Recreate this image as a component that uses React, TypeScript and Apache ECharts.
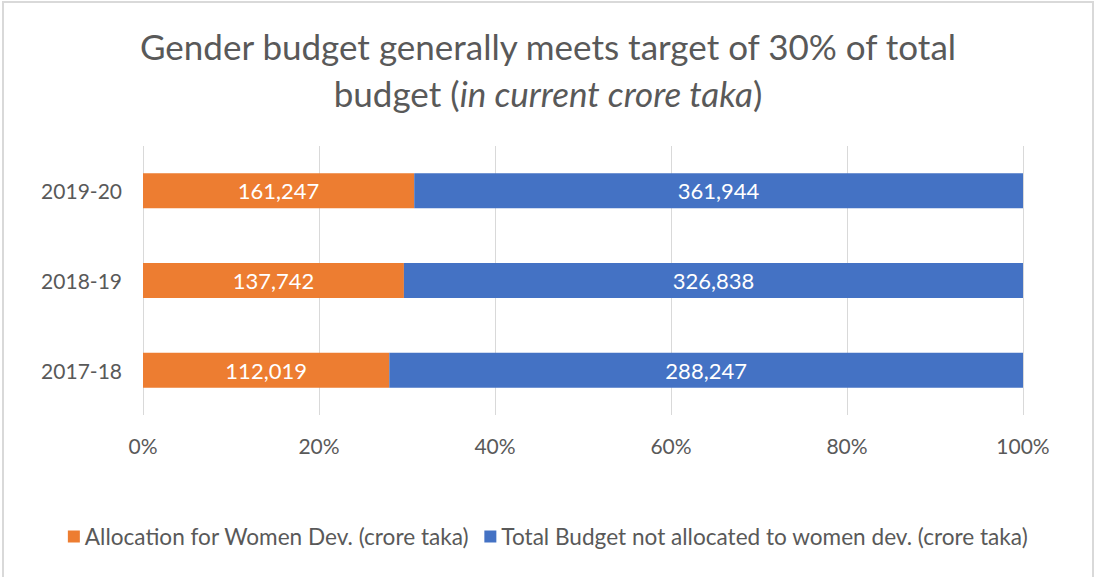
import React, { useEffect, useRef } from "react";
import * as echarts from "echarts";

const years = ["2017-18", "2018-19", "2019-20"];
const womenAlloc = [112019, 137742, 161247];
const notAlloc = [288247, 326838, 361944];
const seriesNames = [
  "Allocation for Women Dev. (crore taka)",
  "Total Budget not allocated to women dev. (crore taka)",
];
const xTicks = [0, 20, 40, 60, 80, 100];

const FONT = "Lato, 'Open Sans', sans-serif";
const GRAY = "#595959";

export default function App() {
  const ref = useRef<HTMLDivElement>(null);
  useEffect(() => {
    document.body.style.margin = "0";
    const chart = echarts.init(ref.current!, null, { renderer: "svg" });
    const totals = years.map((_, i) => womenAlloc[i] + notAlloc[i]);
    const fmt = (v: number) => v.toLocaleString("en-US");
    const mk = (name: string, raw: number[], color: string) => ({
      name,
      type: "bar",
      stack: "total",
      barWidth: 35,
      itemStyle: { color },
      label: {
        show: true,
        position: "inside",
        color: "#ffffff",
        fontSize: 22,
        fontFamily: FONT,
        formatter: (p: any) => fmt(raw[p.dataIndex]),
      },
      data: raw.map((v, i) => (v / totals[i]) * 100),
    });
    chart.setOption({
      animation: false,
      textStyle: { fontFamily: FONT },
      title: {
        text: "Gender budget generally meets target of 30% of total\nbudget ({i|in current crore taka})",
        left: "center",
        top: 17,
        textStyle: {
          fontFamily: FONT,
          fontSize: 35,
          fontWeight: "normal",
          color: GRAY,
          lineHeight: 47,
          rich: {
            i: {
              fontFamily: FONT,
              fontSize: 35,
              fontStyle: "italic",
              color: GRAY,
              lineHeight: 47,
            },
          },
        },
      },
      graphic: [
        {
          type: "rect",
          shape: { x: 3, y: 2, width: 1090, height: 590 },
          style: { fill: "none", stroke: "#d9d9d9", lineWidth: 2 },
          silent: true,
        },
      ],
      legend: {
        bottom: 24,
        left: "center",
        itemWidth: 12,
        itemHeight: 12,
        itemGap: 15,
        icon: "rect",
        textStyle: { fontFamily: FONT, fontSize: 22.6, color: GRAY },
        data: seriesNames,
      },
      grid: { left: 143, right: 73, top: 146, bottom: 162 },
      xAxis: {
        type: "value",
        min: xTicks[0],
        max: xTicks[xTicks.length - 1],
        interval: 20,
        axisLine: { show: false },
        axisTick: { show: false },
        splitLine: { lineStyle: { color: "#d9d9d9", width: 1 } },
        axisLabel: {
          formatter: "{value}%",
          fontSize: 21,
          color: GRAY,
          fontFamily: FONT,
          margin: 20,
        },
      },
      yAxis: {
        type: "category",
        data: years,
        axisLine: { show: false },
        axisTick: { show: false },
        axisLabel: { fontSize: 21, color: GRAY, fontFamily: FONT, margin: 21 },
      },
      series: [
        mk(seriesNames[0], womenAlloc, "#ED7D31"),
        mk(seriesNames[1], notAlloc, "#4472C4"),
      ],
    });
    return () => chart.dispose();
  }, []);
  return <div ref={ref} style={{ width: 1096, height: 577 }} />;
}
